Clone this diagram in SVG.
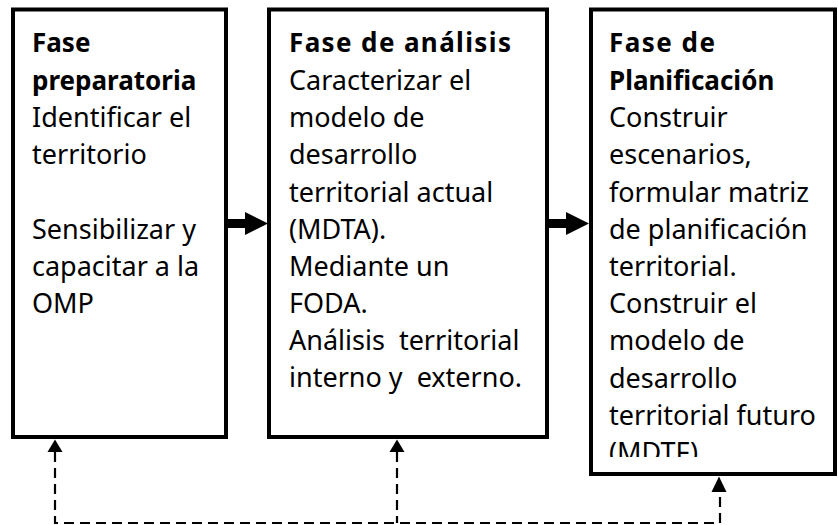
<svg xmlns="http://www.w3.org/2000/svg" width="838" height="525" viewBox="0 0 838 525">
<style>
.box{fill:#fff;stroke:#000;stroke-width:4}
.t{font-family:"Noto Sans","Liberation Sans",sans-serif;font-size:27px;fill:#000}
.b{font-weight:bold;font-size:26px}
.dash{fill:none;stroke:#000;stroke-width:2.2;stroke-dasharray:10 6}
</style>
<defs>
<clipPath id="c3"><rect x="590" y="10" width="246" height="447"/></clipPath>
</defs>
<rect width="838" height="525" fill="#fff"/>
<g id="node-preparatoria">
<rect class="box" x="13" y="9.5" width="213" height="427.5"/>
<text class="t b" x="32" y="52">Fase</text>
<text class="t b" x="32" y="90">preparatoria</text>
<text class="t" x="32" y="127">Identificar el</text>
<text class="t" x="32" y="164">territorio</text>
<text class="t" x="32" y="239">Sensibilizar y</text>
<text class="t" x="32" y="276">capacitar a la</text>
<text class="t" x="32" y="313">OMP</text>
</g>
<g id="node-analisis">
<rect class="box" x="269" y="9.5" width="278" height="427.5"/>
<text class="t b" x="289" y="52" textLength="222" xml:space="preserve">Fase de análisis</text>
<text class="t" x="289" y="90">Caracterizar el</text>
<text class="t" x="289" y="127">modelo de</text>
<text class="t" x="289" y="164">desarrollo</text>
<text class="t" x="289" y="202">territorial actual</text>
<text class="t" x="289" y="239">(MDTA).</text>
<text class="t" x="289" y="276">Mediante un</text>
<text class="t" x="289" y="313">FODA.</text>
<text class="t" x="289" y="350" xml:space="preserve">Análisis  territorial</text>
<text class="t" x="289" y="387" xml:space="preserve">interno y  externo.</text>
</g>
<g id="node-planificacion">
<rect class="box" x="591" y="9.5" width="244" height="464.5"/>
<g clip-path="url(#c3)">
<text class="t b" x="609" y="52" textLength="106">Fase de</text>
<text class="t b" x="609" y="90">Planificación</text>
<text class="t" x="609" y="127">Construir</text>
<text class="t" x="609" y="164">escenarios,</text>
<text class="t" x="609" y="202">formular matriz</text>
<text class="t" x="609" y="239">de planificación</text>
<text class="t" x="609" y="276">territorial.</text>
<text class="t" x="609" y="313">Construir el</text>
<text class="t" x="609" y="350">modelo de</text>
<text class="t" x="609" y="388">desarrollo</text>
<text class="t" x="609" y="425">territorial futuro</text>
<text class="t" x="609" y="462">(MDTF)</text>
</g>
</g>
<g id="connectors">
<rect x="228" y="219" width="18" height="9" fill="#000"/>
<polygon points="245,212 268,223.5 245,235" fill="#000"/>
<rect x="549" y="219" width="18" height="9" fill="#000"/>
<polygon points="566,212 589,223.5 566,235" fill="#000"/>
<path class="dash" d="M55,452 V523 H720 V492"/>
<path class="dash" d="M397,452 V523"/>
<polygon points="55,439.5 47.5,452 62.5,452" fill="#000"/>
<polygon points="397,439.5 389.5,452 404.5,452" fill="#000"/>
<polygon points="719,476.5 711.5,492 726.5,492" fill="#000"/>
</g>
</svg>
